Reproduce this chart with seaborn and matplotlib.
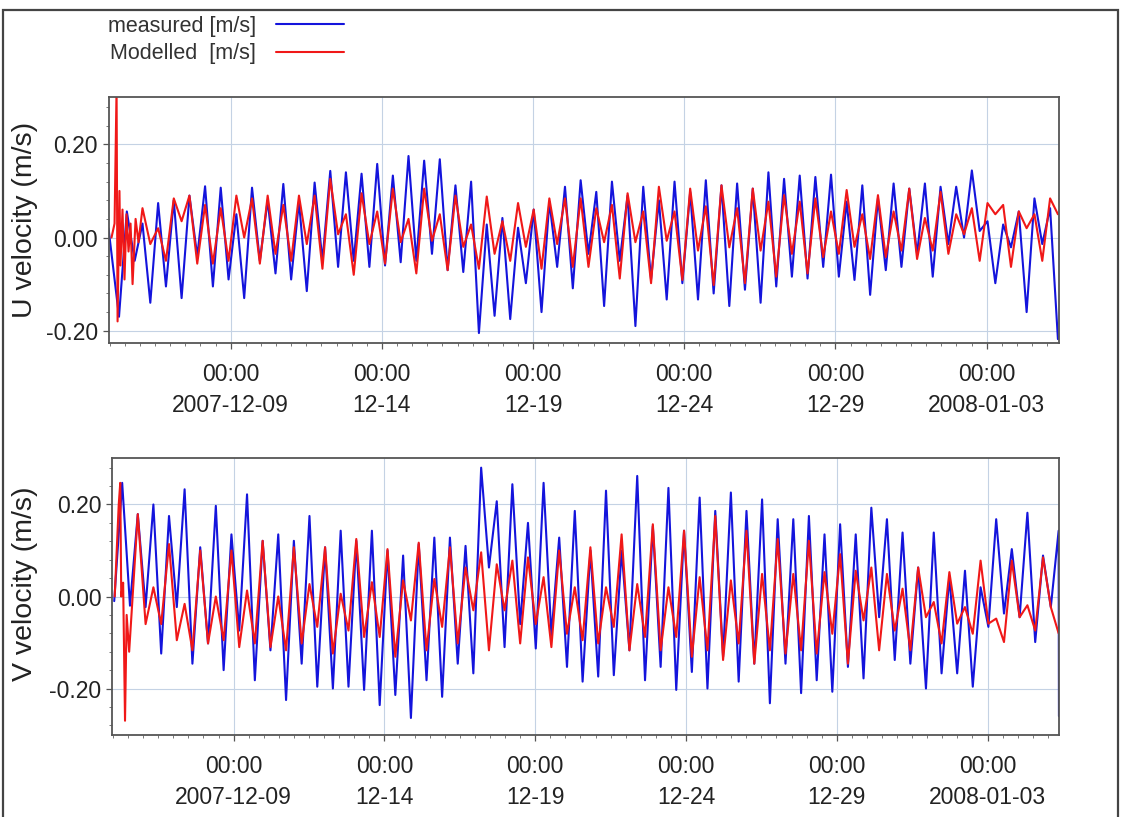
import matplotlib
matplotlib.use("Agg")
import matplotlib.pyplot as plt
import matplotlib.dates as mdates
from matplotlib.patches import Rectangle
from matplotlib.ticker import FixedLocator, MultipleLocator
import numpy as np
import pandas as pd
import seaborn as sns

# time base: series start, then tidal extremes every ~6.21 h
START = pd.Timestamp("2007-12-04 23:00")
FIRST_EXTREME_H = 8.34
HALF_TIDE_H = 6.21
END_H = 754.0

MEASURED = "measured [m/s]"
MODELLED = "Modelled  [m/s]"

# ---- U velocity: successive lows / highs (index 0 = first low)
measured_u = [
    -0.17, 0.056, -0.05, 0.03, -0.14, 0.074, -0.105, 0.08, -0.13, 0.09,
    -0.04, 0.11, -0.105, 0.107, -0.09, 0.05, -0.13, 0.107, -0.05, 0.08,
    -0.077, 0.115, -0.09, 0.077, -0.115, 0.118, -0.05, 0.143, -0.063, 0.14,
    -0.05, 0.137, -0.063, 0.158, -0.06, 0.133, -0.053, 0.175, -0.05, 0.165,
    -0.035, 0.168, -0.07, 0.112, -0.074, 0.12, -0.205, 0.028, -0.168, 0.042,
    -0.175, 0.021, -0.098, 0.06, -0.16, 0.077, -0.063, 0.109, -0.109, 0.123,
    -0.035, 0.098, -0.147, 0.12, -0.05, 0.09, -0.19, 0.109, -0.09, 0.08,
    -0.133, 0.12, -0.098, 0.098, -0.133, 0.123, -0.12, 0.112, -0.147, 0.116,
    -0.112, 0.105, -0.14, 0.14, -0.105, 0.126, -0.084, 0.133, -0.088, 0.13,
    -0.063, 0.135, -0.084, 0.077, -0.091, 0.112, -0.123, 0.084, -0.07, 0.116,
    -0.063, 0.105, -0.035, 0.116, -0.084, 0.109, -0.014, 0.109, 0.0, 0.144,
    0.014, 0.035, -0.098, 0.028, -0.021, 0.056, -0.16, 0.084, -0.014, 0.063,
    -0.218,
]
measured_u_start = 0.02

# model spin-up (hours after start) before the regular tide
modelled_u_spinup_h = [2.4, 4.8, 6.4, 7.2, 8.7, 9.5, 11.1, 12.7, 14.3, 15.9, 17.5, 19.1, 21.5, 23.8]
modelled_u_spinup = [0.0, 0.03, 0.32, -0.18, 0.1, -0.06, 0.06, -0.09, 0.05, -0.03, 0.03, -0.1, 0.04, -0.01]
# from extreme index 3 onwards
modelled_u = [
    0.063, -0.014, 0.02, -0.05, 0.084, 0.035, 0.09, -0.056, 0.07, -0.056,
    0.063, -0.05, 0.09, 0.0, 0.084, -0.056, 0.09, -0.035, 0.07, -0.05,
    0.09, -0.014, 0.09, -0.067, 0.126, 0.007, 0.05, -0.08, 0.095, -0.014,
    0.056, -0.056, 0.105, -0.01, 0.04, -0.077, 0.105, -0.007, 0.05, -0.07,
    0.09, -0.02, 0.028, -0.067, 0.088, -0.035, 0.035, -0.05, 0.074, -0.02,
    0.06, -0.067, 0.084, -0.014, 0.084, -0.063, 0.084, -0.063, 0.063, -0.01,
    0.07, -0.088, 0.095, -0.01, 0.056, -0.098, 0.109, -0.007, 0.056, -0.091,
    0.105, -0.028, 0.067, -0.102, 0.112, -0.021, 0.063, -0.098, 0.105, -0.028,
    0.077, -0.084, 0.091, -0.035, 0.077, -0.077, 0.084, -0.042, 0.056, -0.035,
    0.102, -0.02, 0.05, -0.046, 0.091, -0.042, 0.056, -0.028, 0.105, -0.046,
    0.042, -0.028, 0.098, -0.035, 0.05, 0.007, 0.063, -0.05, 0.074, 0.05,
    0.07, -0.063, 0.056, 0.02, 0.05, -0.05, 0.084, 0.05,
]

# ---- V velocity: successive highs / lows (index 0 = first high)
measured_v = [
    0.247, -0.02, 0.179, -0.023, 0.2, -0.124, 0.175, -0.023, 0.233, -0.146,
    0.107, -0.102, 0.197, -0.16, 0.135, -0.074, 0.222, -0.182, 0.121, -0.117,
    0.135, -0.225, 0.121, -0.146, 0.175, -0.196, 0.107, -0.2, 0.143, -0.196,
    0.121, -0.203, 0.143, -0.236, 0.1, -0.214, 0.089, -0.264, 0.114, -0.182,
    0.128, -0.218, 0.128, -0.146, 0.11, -0.167, 0.28, 0.063, 0.207, -0.11,
    0.244, -0.06, 0.16, -0.113, 0.247, -0.084, 0.128, -0.153, 0.186, -0.185,
    0.1, -0.174, 0.23, -0.171, 0.1, -0.117, 0.262, -0.182, 0.153, -0.153,
    0.236, -0.203, 0.143, -0.164, 0.215, -0.2, 0.186, -0.131, 0.226, -0.185,
    0.186, -0.146, 0.211, -0.232, 0.168, -0.146, 0.168, -0.21, 0.175, -0.182,
    0.135, -0.207, 0.157, -0.153, 0.135, -0.178, 0.193, -0.045, 0.168, -0.138,
    0.139, -0.146, 0.063, -0.2, 0.139, -0.167, 0.042, -0.167, 0.056, -0.196,
    0.02, -0.066, 0.168, -0.037, 0.103, -0.045, 0.182, -0.099, 0.089, -0.023,
    0.143,
]
measured_v_start = -0.01
measured_v_end = -0.26

modelled_v_spinup_h = [2.4, 5.6, 6.8, 7.6, 9.1, 10.6, 11.9, 13.9]
modelled_v_spinup = [0.0, 0.2, 0.247, 0.0, 0.03, -0.27, -0.04, -0.12]
# from extreme index 2 onwards
modelled_v = [
    0.179, -0.06, 0.02, -0.06, 0.114, -0.095, -0.016, -0.117, 0.1, -0.102,
    0.0, -0.095, 0.1, -0.11, 0.013, -0.102, 0.121, -0.11, 0.0, -0.117,
    0.107, -0.102, 0.027, -0.066, 0.107, -0.124, 0.006, -0.074, 0.125, -0.088,
    0.031, -0.088, 0.103, -0.131, 0.035, -0.052, 0.117, -0.117, 0.038, -0.066,
    0.107, -0.102, 0.063, -0.03, 0.096, -0.117, 0.07, -0.03, 0.078, -0.102,
    0.085, -0.06, 0.042, -0.11, 0.1, -0.081, 0.02, -0.095, 0.107, -0.102,
    0.02, -0.066, 0.135, -0.117, 0.027, -0.088, 0.157, -0.117, 0.02, -0.088,
    0.143, -0.131, 0.042, -0.117, 0.175, -0.138, 0.035, -0.102, 0.143, -0.146,
    0.049, -0.117, 0.125, -0.124, 0.049, -0.117, 0.121, -0.124, 0.053, -0.081,
    0.092, -0.146, 0.056, -0.052, 0.063, -0.117, 0.049, -0.074, 0.017, -0.117,
    0.063, -0.045, -0.012, -0.102, 0.053, -0.059, -0.023, -0.081, 0.078, -0.059,
    -0.048, -0.099, 0.078, -0.045, -0.019, -0.074, 0.085, -0.023, -0.08,
]

major_days = ["2007-12-09", "2007-12-14", "2007-12-19", "2007-12-24", "2007-12-29", "2008-01-03"]
major_labels = ["00:00\n2007-12-09", "00:00\n12-14", "00:00\n12-19",
                "00:00\n12-24", "00:00\n12-29", "00:00\n2008-01-03"]

BLUE = "#1414dc"
RED = "#f01818"
TEXT = "#222222"


def extreme_hours(first_index, count):
    return list(FIRST_EXTREME_H + HALF_TIDE_H * np.arange(first_index, first_index + count))


def frame(name, hours, values):
    return pd.DataFrame({
        "time": START + pd.to_timedelta(np.asarray(hours, dtype=float), unit="h"),
        "velocity": values,
        "series": name,
    })


u_df = pd.concat([
    frame(MEASURED, [0.0] + extreme_hours(0, len(measured_u)), [measured_u_start] + measured_u),
    frame(MODELLED, modelled_u_spinup_h + extreme_hours(3, len(modelled_u)), modelled_u_spinup + modelled_u),
], ignore_index=True)

v_df = pd.concat([
    frame(MEASURED, [2.0] + extreme_hours(0, len(measured_v)) + [END_H - 0.2],
          [measured_v_start] + measured_v + [measured_v_end]),
    frame(MODELLED, modelled_v_spinup_h + extreme_hours(2, len(modelled_v)), modelled_v_spinup + modelled_v),
], ignore_index=True)

sns.set_theme(style="white")
plt.rcParams["font.family"] = ["Liberation Sans", "DejaVu Sans"]

W, H = 1126, 817
fig = plt.figure(figsize=(W / 100, H / 100), dpi=100)
ax_u = fig.add_axes([108.5 / W, 1 - 343.3 / H, 950 / W, 246 / H])
ax_v = fig.add_axes([111.7 / W, 1 - 735 / H, 947.5 / W, 277 / H])

palette = {MEASURED: BLUE, MODELLED: RED}
panels = [
    (ax_u, u_df, "U velocity (m/s)", (-0.227, 0.301), 0.5),
    (ax_v, v_df, "V velocity (m/s)", (-0.301, 0.301), 0.545),
]

major_ticks = [mdates.date2num(pd.Timestamp(d)) for d in major_days]

for ax, df, ylabel, ylim, label_y in panels:
    sns.lineplot(data=df, x="time", y="velocity", hue="series",
                 hue_order=[MEASURED, MODELLED], palette=palette,
                 estimator=None, linewidth=1.5, ax=ax)
    ax.set_xlim(START, START + pd.Timedelta(hours=END_H))
    ax.set_ylim(*ylim)

    ax.xaxis.set_major_locator(FixedLocator(major_ticks))
    ax.set_xticklabels(major_labels)
    ax.xaxis.set_minor_locator(mdates.HourLocator(byhour=[0, 12]))
    ax.set_yticks([-0.2, 0.0, 0.2])
    ax.set_yticklabels(["-0.20", "0.00", "0.20"])
    ax.yaxis.set_minor_locator(MultipleLocator(0.04))

    ax.tick_params(axis="both", which="major", direction="out", length=4.5,
                   width=0.9, color="#555555", labelsize=16.5, labelcolor=TEXT)
    ax.tick_params(axis="x", which="major", pad=10)
    ax.tick_params(axis="y", which="major", pad=3)
    ax.tick_params(axis="both", which="minor", direction="out", length=2.5,
                   width=0.7, color="#777777")
    ax.tick_params(bottom=True, left=True, which="both")
    for lbl in ax.get_xticklabels():
        lbl.set_linespacing(1.42)

    ax.grid(True, which="major", color="#c4d2e4", linewidth=0.8)
    ax.set_axisbelow(True)
    for spine in ax.spines.values():
        spine.set_color("#555555")
        spine.set_linewidth(1.3)

    ax.set_xlabel("")
    ax.set_ylabel(ylabel, fontsize=20.5, color=TEXT)
    left_px = ax.get_position().x0 * W
    width_px = ax.get_position().width * W
    ax.yaxis.set_label_coords((38 - left_px) / width_px, label_y)

handles, labels = ax_u.get_legend_handles_labels()
for ax in (ax_u, ax_v):
    if ax.get_legend() is not None:
        ax.get_legend().remove()

leg = fig.legend(handles, labels, loc="upper left", bbox_to_anchor=(108 / W, 1 - 16 / H),
                 frameon=False, markerfirst=False, handlelength=3.2, handletextpad=0.9,
                 fontsize=15.5, labelspacing=0.3, borderpad=0, borderaxespad=0)
for txt in leg.get_texts():
    txt.set_color("#333333")

fig.patches.append(Rectangle((3 / W, -0.05), 1115 / W, 1.05 - 10 / H,
                             transform=fig.transFigure, fill=False,
                             edgecolor="#444444", linewidth=1.6))

fig.savefig("out.png", dpi=100)
